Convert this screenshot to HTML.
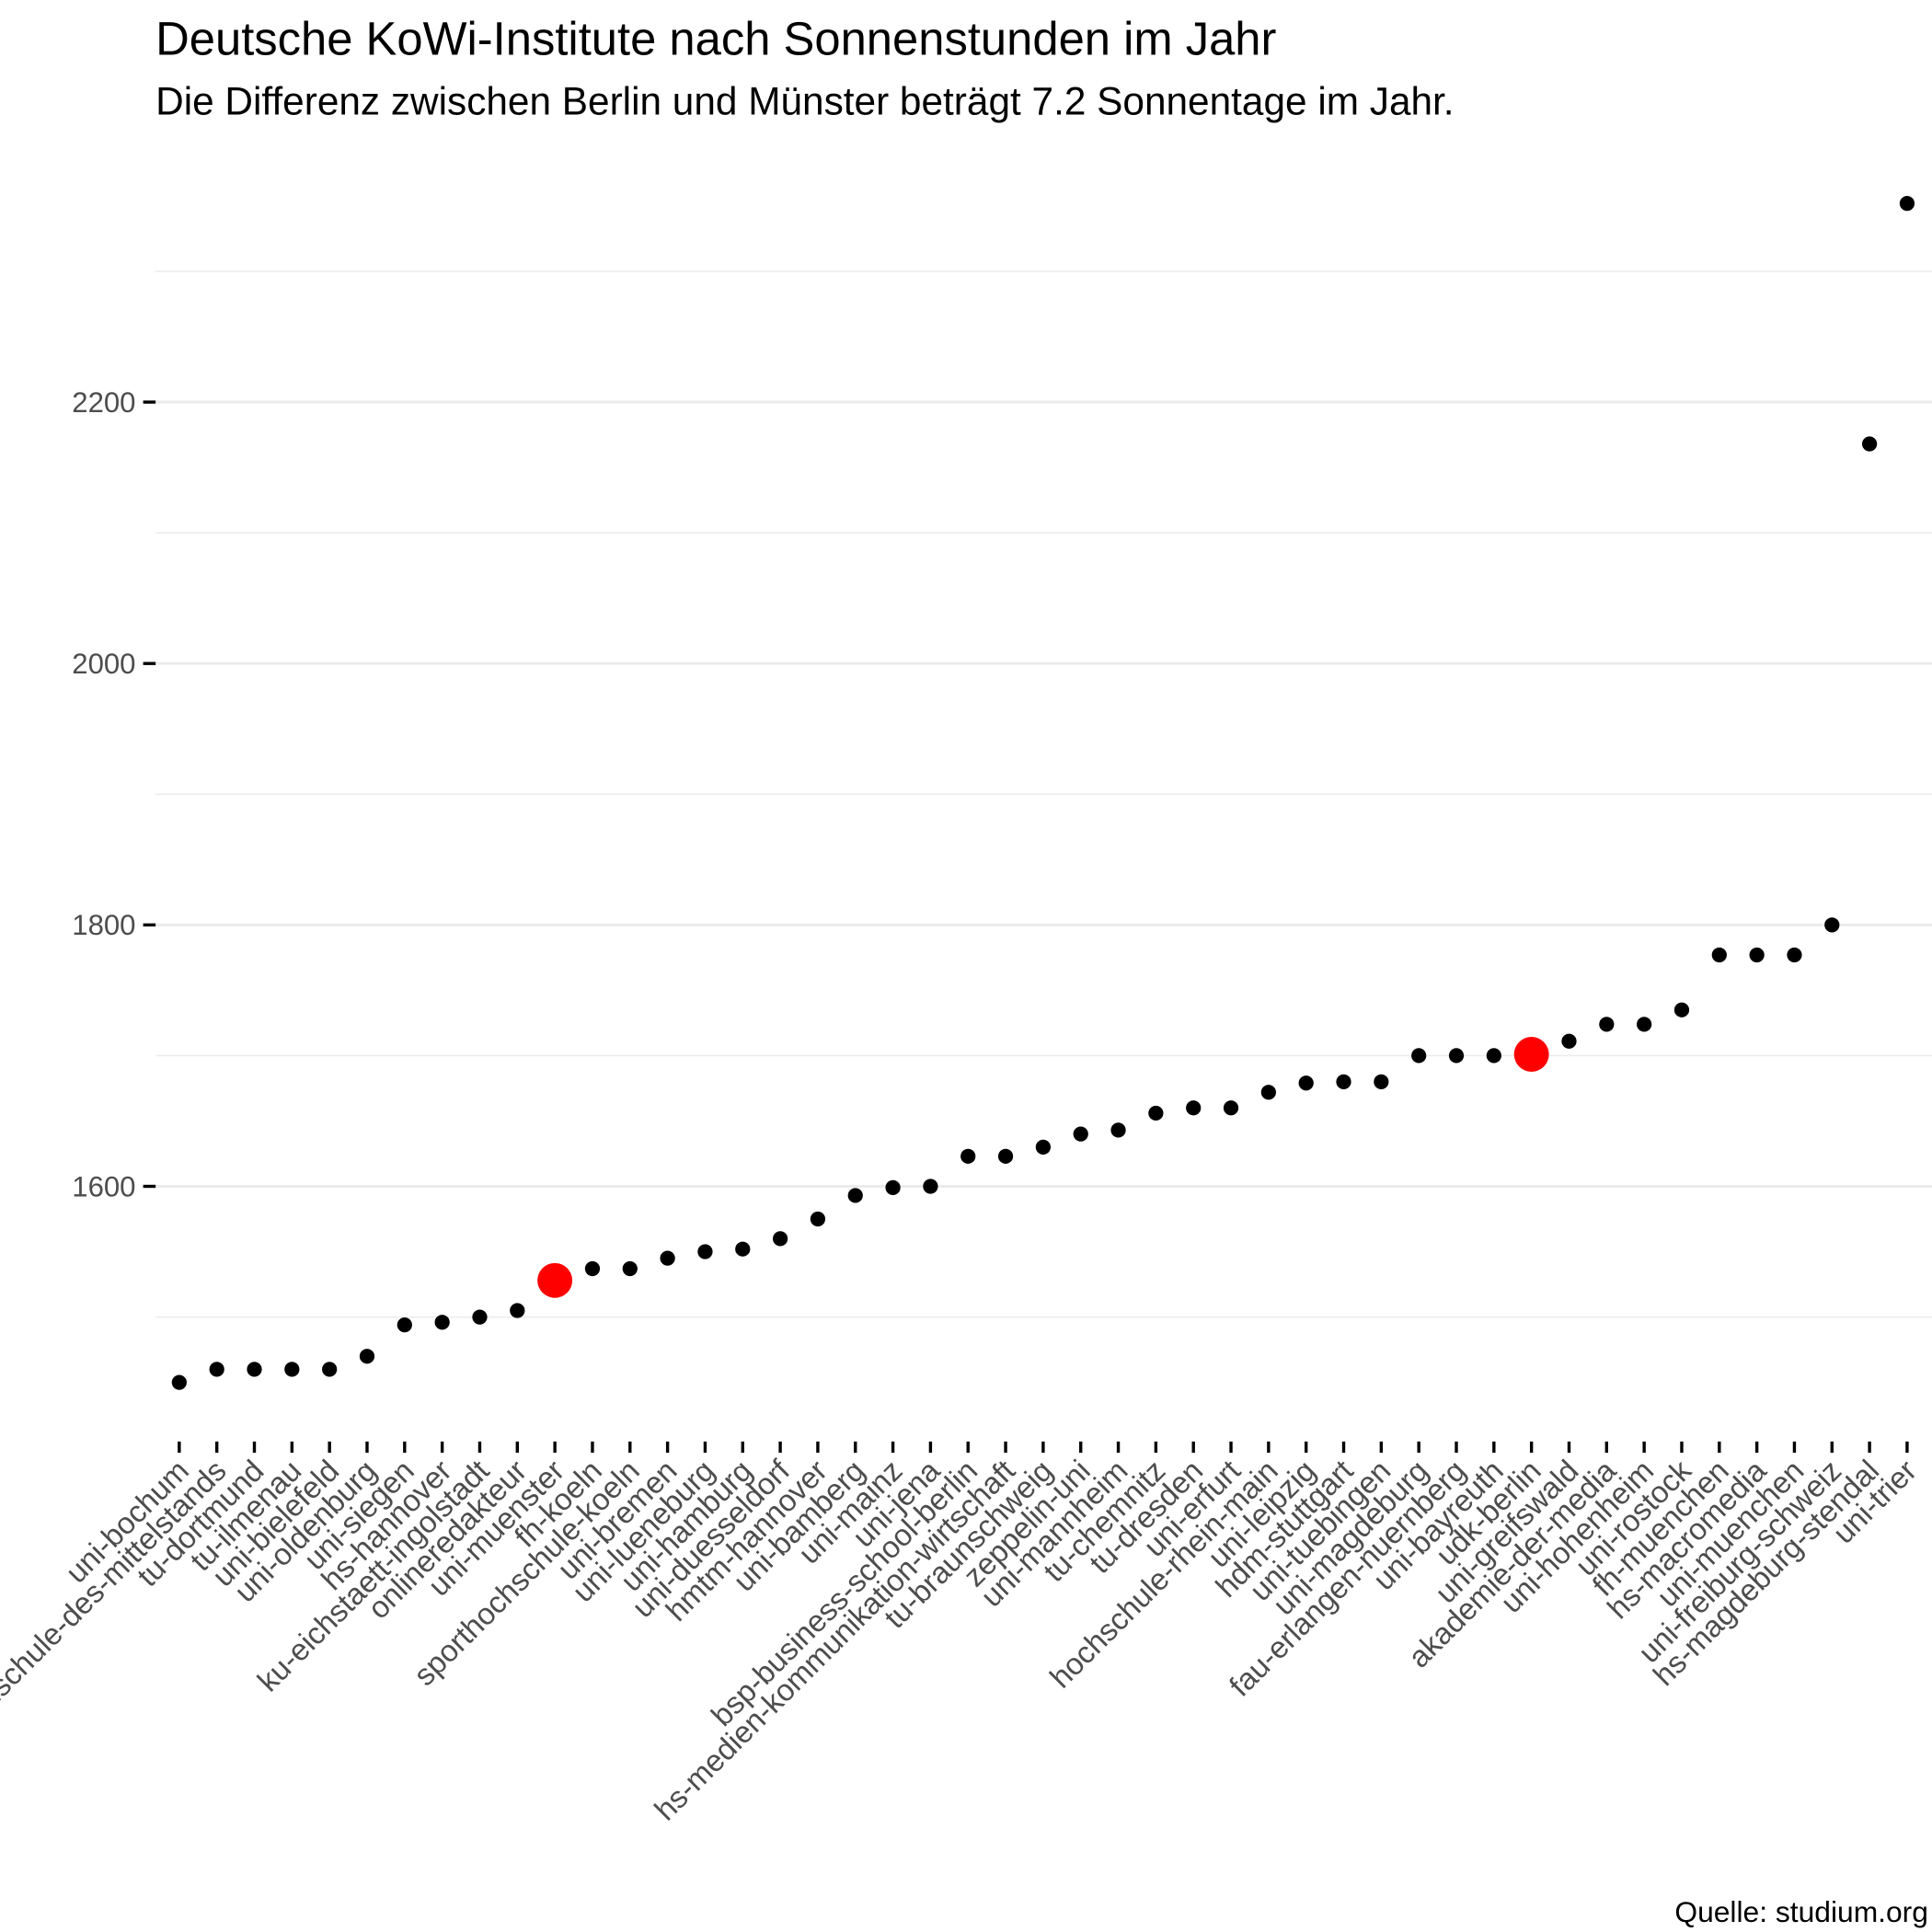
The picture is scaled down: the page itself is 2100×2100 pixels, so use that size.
<!DOCTYPE html>
<html><head><meta charset="utf-8"><style>
html,body{margin:0;padding:0;background:#fff;}
svg{display:block;font-family:"Liberation Sans",Arial,sans-serif;}
</style></head><body>
<svg id="chart" width="2100" height="2100" viewBox="0 0 1552 1552" xmlns="http://www.w3.org/2000/svg">
<text x="125" y="44" font-size="37.5" fill="#000">Deutsche KoWi-Institute nach Sonnenstunden im Jahr</text>
<text x="125" y="92" font-size="31.3" fill="#000">Die Differenz zwischen Berlin und Münster beträgt 7.2 Sonnentage im Jahr.</text>
<text x="1549" y="1544" font-size="23.5" text-anchor="end" fill="#000">Quelle: studium.org</text>
<g id="grid"></g><g id="axes"></g><g id="points"></g>
</svg>
<script>
const categories=["uni-bochum","hochschule-des-mittelstands","tu-dortmund","tu-ilmenau","uni-bielefeld","uni-oldenburg","uni-siegen","hs-hannover","ku-eichstaett-ingolstadt","onlineredakteur","uni-muenster","fh-koeln","sporthochschule-koeln","uni-bremen","uni-lueneburg","uni-hamburg","uni-duesseldorf","hmtm-hannover","uni-bamberg","uni-mainz","uni-jena","bsp-business-school-berlin","hs-medien-kommunikation-wirtschaft","tu-braunschweig","zeppelin-uni","uni-mannheim","tu-chemnitz","tu-dresden","uni-erfurt","hochschule-rhein-main","uni-leipzig","hdm-stuttgart","uni-tuebingen","uni-magdeburg","fau-erlangen-nuernberg","uni-bayreuth","udk-berlin","uni-greifswald","akademie-der-media","uni-hohenheim","uni-rostock","fh-muenchen","hs-macromedia","uni-muenchen","uni-freiburg-schweiz","hs-magdeburg-stendal","uni-trier"];
const sunHours=[1450,1460,1460,1460,1460,1470,1494,1496,1500,1505,1528,1537,1537,1545,1550,1552,1560,1575,1593,1599,1600,1623,1623,1630,1640,1643,1656,1660,1660,1672,1679,1680,1680,1700,1700,1700,1701,1711,1724,1724,1735,1777,1777,1777,1800,2168,2352];
const highlighted=["uni-muenster","udk-berlin"];
const majorTicks=[1600,1800,2000,2200];
const minorTicks=[1500,1700,1900,2100,2300];
const NS="http://www.w3.org/2000/svg";
const x0=125,x1=1552,y0=1158;
const yScale=v=>953-(v-1600)*1.05;
const xScale=i=>144+i*(1532-144)/(categories.length-1);
function mk(tag,attrs,parent,txt){const e=document.createElementNS(NS,tag);for(const k in attrs)e.setAttribute(k,attrs[k]);if(txt!==undefined)e.textContent=txt;parent.appendChild(e);return e;}
const grid=document.getElementById('grid'),axes=document.getElementById('axes'),pts=document.getElementById('points');
minorTicks.forEach(v=>{const l=mk('line',{x1:x0,x2:x1,y1:yScale(v),y2:yScale(v),stroke:'#ebebeb','stroke-width':1.1},grid);

});
majorTicks.forEach(v=>{const y=yScale(v);const l=mk('line',{x1:x0,x2:x1,y1:y,y2:y,stroke:'#ebebeb','stroke-width':2.2},grid);


const t=mk('line',{x1:x0-10,x2:x0,y1:y,y2:y,stroke:'#000','stroke-width':2.5},axes);


const tx=mk('text',{x:x0-16,y:y+8,'font-size':23,'text-anchor':'end',fill:'#4d4d4d'},axes,String(v));

});
categories.forEach((c,i)=>{const x=xScale(i);
const t=mk('line',{x1:x,x2:x,y1:y0,y2:y0+9,stroke:'#000','stroke-width':2.5},axes);


const tx=mk('text',{x:x+9,y:y0+25,'font-size':24.4,'text-anchor':'end',fill:'#4d4d4d',transform:`rotate(-45 ${x+9} ${y0+25})`},axes,c);


const hl=highlighted.includes(c);
const p=mk('circle',{cx:x,cy:yScale(sunHours[i]),r:hl?14:6,fill:hl?'#ff0000':'#000'},pts);

});
</script>
</body></html>
